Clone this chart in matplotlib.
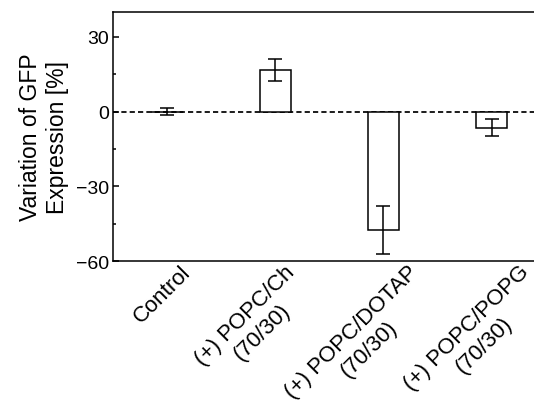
import matplotlib
matplotlib.use("Agg")
import matplotlib.pyplot as plt
from matplotlib.ticker import MultipleLocator
from matplotlib.transforms import ScaledTranslation

plt.rcParams['font.family'] = ['Liberation Sans', 'DejaVu Sans']

# data
labels = ["Control", "(+) POPC/Ch\n(70/30)", "(+) POPC/DOTAP\n(70/30)", "(+) POPC/POPG\n(70/30)"]
values = [0.0, 16.8, -47.6, -6.4]
errors = [1.3, 4.4, 9.6, 3.4]

fig = plt.figure(figsize=(5.34, 4.14), dpi=100)
ax = fig.add_axes([0.2116, 0.367, 0.79, 0.6016])

x = list(range(len(labels)))
ax.bar(x, values, width=0.29, color="white", edgecolor="black", linewidth=1.1, zorder=2)
ax.errorbar(x, values, yerr=errors, fmt="none", ecolor="black", elinewidth=1.1,
            capsize=4.8, capthick=1.1, zorder=3)
ax.axhline(0, color="black", linestyle=(0, (3, 1.8)), linewidth=1.25, zorder=1)

ax.set_xlim(-0.5, 3.4)
ax.set_ylim(-60, 40)
ax.yaxis.set_minor_locator(MultipleLocator(15))
ax.set_yticks([-60, -30, 0, 30])
ax.set_yticklabels(["\u221260", "\u221230", "0", "30"])
ax.tick_params(axis="y", which="major", direction="in", length=4, width=1.1, labelsize=14, pad=3)
ax.tick_params(axis="y", which="minor", direction="in", length=2.5, width=1.1)
ax.tick_params(axis="x", length=0, pad=0)

ax.set_xticks(x)
ax.set_xticklabels(labels, rotation=45, ha="right", va="top", rotation_mode="anchor",
                   multialignment="center", fontsize=16)
# shift labels to the right as in the figure
shifts = [13, 9, 24, 27]
for lab, dx in zip(ax.get_xticklabels(), shifts):
    lab.set_transform(lab.get_transform() + ScaledTranslation(dx / 100, 0, fig.dpi_scale_trans))

ax.set_ylabel("Variation of GFP\nExpression [%]", fontsize=16.5, labelpad=5)

ax.spines["right"].set_visible(False)
for s in ["left", "bottom", "top"]:
    ax.spines[s].set_linewidth(1.1)

fig.savefig("out.png", dpi=100)
